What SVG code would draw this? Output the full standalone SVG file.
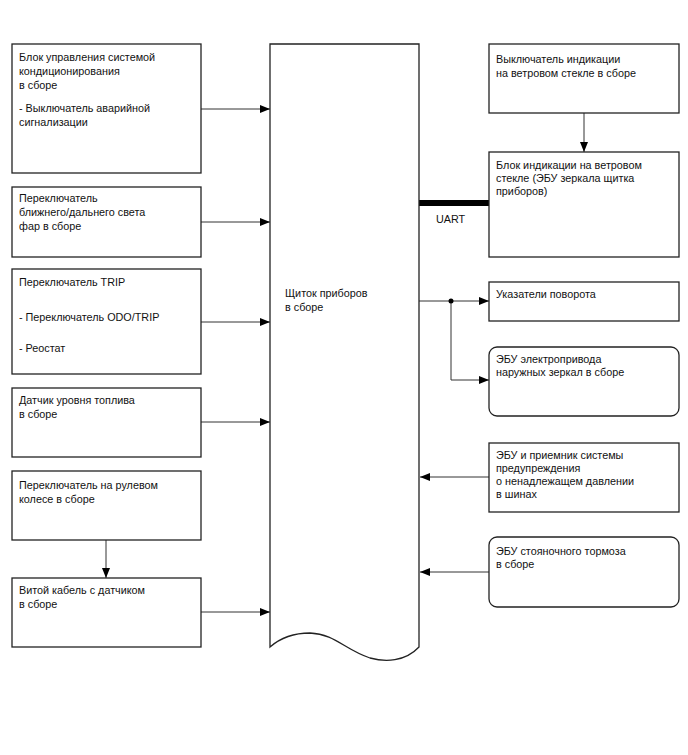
<svg xmlns="http://www.w3.org/2000/svg" width="688" height="755" viewBox="0 0 688 755">
<style>
.box{fill:#fff;stroke:#222;stroke-width:1.3}
.ln{fill:none;stroke:#333;stroke-width:1}
text{font-family:"Liberation Sans",Arial,sans-serif;font-size:10.8px;fill:#111}
</style>
<defs>
<marker id="ah" viewBox="0 0 10 8" refX="10" refY="4" markerWidth="10" markerHeight="8" markerUnits="userSpaceOnUse" orient="auto">
<path d="M0,0 L10,4 L0,8 Z" fill="#000"/>
</marker>
</defs>
<rect width="688" height="755" fill="#fff"/>
<g id="connectors">
<line class="ln" x1="201" y1="109" x2="270" y2="109" marker-end="url(#ah)"/>
<line class="ln" x1="201" y1="222" x2="270" y2="222" marker-end="url(#ah)"/>
<line class="ln" x1="201" y1="322" x2="270" y2="322" marker-end="url(#ah)"/>
<line class="ln" x1="201" y1="422" x2="270" y2="422" marker-end="url(#ah)"/>
<line class="ln" x1="106" y1="540" x2="106" y2="578" marker-end="url(#ah)"/>
<line class="ln" x1="201" y1="612" x2="270" y2="612" marker-end="url(#ah)"/>
<line class="ln" x1="584" y1="113" x2="584" y2="152" marker-end="url(#ah)"/>
<line x1="419" y1="203" x2="489" y2="203" stroke="#000" stroke-width="6"/>
<line class="ln" x1="419" y1="301" x2="489" y2="301" marker-end="url(#ah)"/>
<polyline class="ln" points="451,301 451,380 489,380" marker-end="url(#ah)"/>
<circle cx="451" cy="301" r="2.5" fill="#000"/>
<line class="ln" x1="489" y1="477" x2="420" y2="477" marker-end="url(#ah)"/>
<line class="ln" x1="489" y1="572" x2="420" y2="572" marker-end="url(#ah)"/>
<text x="436" y="223">UART</text>
</g>
<g id="cluster">
<path class="box" d="M270,44 L419,44 L419,647 C405,662 385,662 370,658 C345,650 335,634 310,633 C290,633 278,640 270,647 Z"/>
<text x="285" y="297">Щиток приборов</text>
<text x="285" y="311">в сборе</text>
</g>
<g id="n1">
<rect class="box" x="12" y="44" width="189" height="129"/>
<text x="19" y="61">Блок управления системой</text>
<text x="19" y="75">кондиционирования</text>
<text x="19" y="89">в сборе</text>
<text x="19" y="112">- Выключатель аварийной</text>
<text x="19" y="126">сигнализации</text>
</g>
<g id="n2">
<rect class="box" x="12" y="187" width="189" height="70"/>
<text x="19" y="202">Переключатель</text>
<text x="19" y="216">ближнего/дальнего света</text>
<text x="19" y="230">фар в сборе</text>
</g>
<g id="n3">
<rect class="box" x="12" y="269" width="189" height="105"/>
<text x="19" y="286">Переключатель TRIP</text>
<text x="19" y="321">- Переключатель ODO/TRIP</text>
<text x="19" y="352">- Реостат</text>
</g>
<g id="n4">
<rect class="box" x="12" y="388" width="189" height="69"/>
<text x="19" y="404">Датчик уровня топлива</text>
<text x="19" y="418">в сборе</text>
</g>
<g id="n5">
<rect class="box" x="12" y="471" width="189" height="69"/>
<text x="19" y="489">Переключатель на рулевом</text>
<text x="19" y="503">колесе в сборе</text>
</g>
<g id="n6">
<rect class="box" x="12" y="578" width="189" height="69"/>
<text x="19" y="594">Витой кабель с датчиком</text>
<text x="19" y="608">в сборе</text>
</g>
<g id="r1">
<rect class="box" x="489" y="44" width="190" height="69"/>
<text x="496" y="63">Выключатель индикации</text>
<text x="496" y="77">на ветровом стекле в сборе</text>
</g>
<g id="r2">
<rect class="box" x="489" y="152" width="190" height="105"/>
<text x="496" y="169">Блок индикации на ветровом</text>
<text x="496" y="182">стекле (ЭБУ зеркала щитка</text>
<text x="496" y="195">приборов)</text>
</g>
<g id="r3">
<rect class="box" x="489" y="282" width="190" height="39"/>
<text x="496" y="298">Указатели поворота</text>
</g>
<g id="r4">
<rect class="box" x="489" y="347" width="190" height="69" rx="8"/>
<text x="496" y="363">ЭБУ электропривода</text>
<text x="496" y="376">наружных зеркал в сборе</text>
</g>
<g id="r5">
<rect class="box" x="489" y="443" width="190" height="69"/>
<text x="496" y="459">ЭБУ и приемник системы</text>
<text x="496" y="472">предупреждения</text>
<text x="496" y="485">о ненадлежащем давлении</text>
<text x="496" y="498">в шинах</text>
</g>
<g id="r6">
<rect class="box" x="489" y="537" width="190" height="70" rx="8"/>
<text x="496" y="555">ЭБУ стояночного тормоза</text>
<text x="496" y="568">в сборе</text>
</g>
</svg>
